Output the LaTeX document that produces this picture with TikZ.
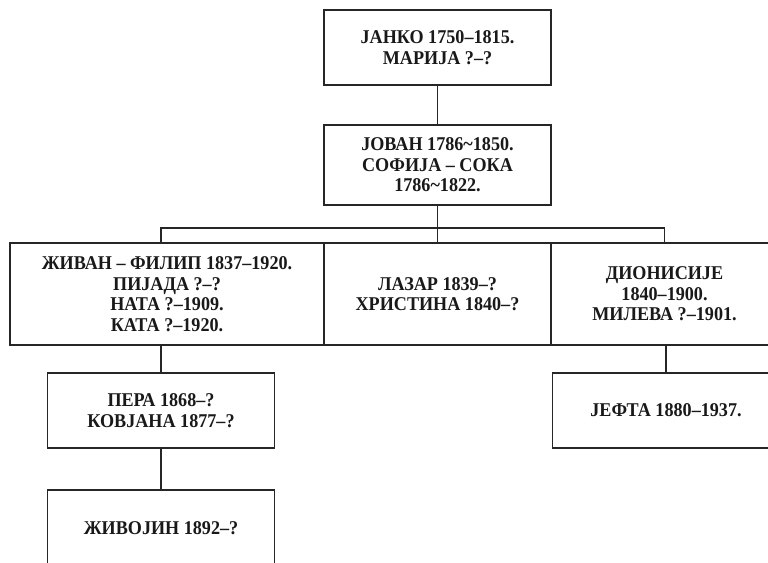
\documentclass[tikz,border=0pt]{standalone}
\usepackage{fontspec}
\setmainfont{Liberation Serif}[FakeStretch=0.93]
\usetikzlibrary{positioning,calc}

\begin{document}
\begin{tikzpicture}[x=1pt,y=-1pt,line width=1.2pt,draw=black!85]
\tikzstyle{fam} = [draw=black!85,fill=white,shape=rectangle,align=center,inner sep=0pt,
  minimum height=75pt,text=black!90,font=\bfseries\fontsize{19.5}{20.5}\selectfont]
\tikzstyle{wide} = [fam,minimum width=227pt]
\useasboundingbox (0,0) rectangle (768,562);
\node[wide] (janko) at (437.5,47.5) {ЈАНКО 1750–1815.\\МАРИЈА ?–?} ;
\node[wide,minimum height=80pt] (jovan) at (437.5,165) {ЈОВАН 1786\textasciitilde1850.\\СОФИЈА – СОКА\\1786\textasciitilde1822.} ;
\node[fam,minimum width=314pt,minimum height=102pt] (zivan) at (167,294) {ЖИВАН – ФИЛИП 1837–1920.\\ПИЈАДА ?–?\\НАТА ?–1909.\\КАТА ?–1920.} ;
\node[wide,minimum height=102pt] (lazar) at (437.5,294) {ЛАЗАР 1839–?\\ХРИСТИНА 1840–?} ;
\node[wide,minimum height=102pt] (dionisije) at (664.5,294) {ДИОНИСИЈЕ\\1840–1900.\\МИЛЕВА ?–1901.} ;
\node[wide] (pera) at (161,410.5) {ПЕРА 1868–?\\КОВЈАНА 1877–?} ;
\node[wide,minimum height=76pt] (zivojin) at (161,528) {ЖИВОЈИН 1892–?} ;
\node[wide] (jefta) at (666,410.5) {ЈЕФТА 1880–1937.} ;
\coordinate (bar) at (437.5,228);
\draw (janko) -- (jovan) ;
\draw (jovan) -- (bar) ;
\draw (bar) -- (lazar) ;
\draw (pera.north |- zivan.north) |- (bar) -| (dionisije.north) ;
\draw (pera.north) -- (pera.north |- zivan.south) ;
\draw (pera) -- (zivojin) ;
\draw (jefta.north) -- (jefta.north |- dionisije.south) ;
\end{tikzpicture}
\end{document}
